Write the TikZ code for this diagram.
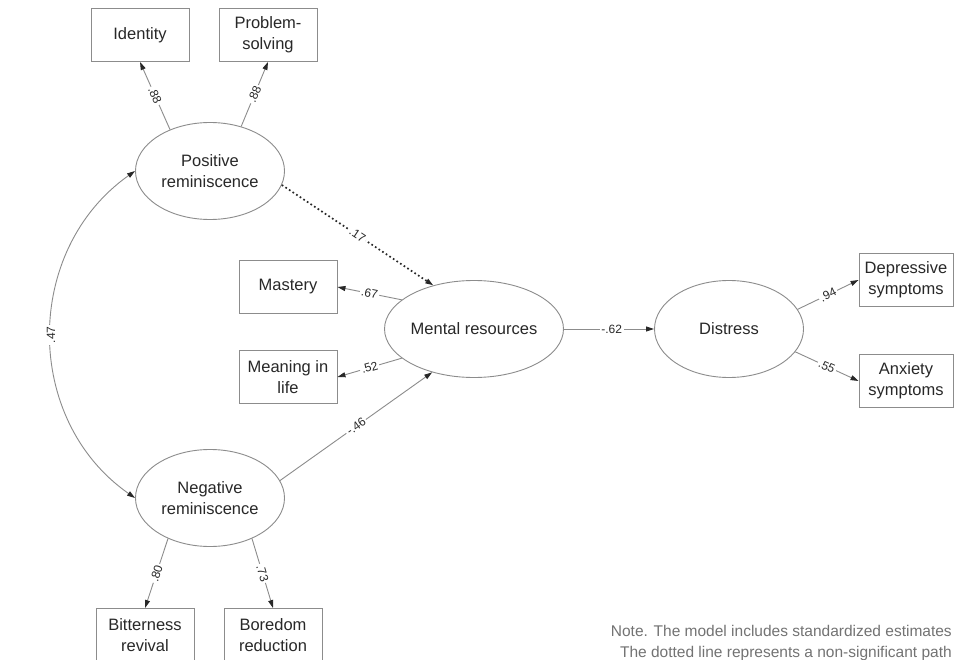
\documentclass[tikz,border=0pt]{standalone}
\usepackage{fontspec}
\setmainfont{Liberation Sans}
\usetikzlibrary{arrows.meta,shapes.geometric}
\definecolor{LineGray}{RGB}{140,140,140}
\definecolor{TextGray}{RGB}{40,40,40}
\definecolor{NoteGray}{RGB}{115,115,115}

\begin{document}
\begin{tikzpicture}[
        x=1pt, y=-1pt,
        font=\fontsize{16.5}{21}\selectfont,
        latent/.style = {ellipse, draw=LineGray, line width=0.9pt, minimum width=149pt, minimum height=97pt, inner sep=0pt, align=center, text=TextGray},
        observed/.style = {rectangle, draw=LineGray, line width=0.9pt, minimum width=98pt, minimum height=53pt, inner sep=0pt, align=center, text=TextGray},
        tip/.style = {-{Triangle[length=8pt, width=5pt, color=TextGray]}},
        link/.style = {draw=LineGray, line width=0.9pt, tip},
        nonsig/.style = {draw=TextGray, line width=1.7pt, dash pattern=on 1.7pt off 2.6pt, tip},
        est/.style = {font=\fontsize{12}{12}\selectfont, fill=white, inner sep=1.5pt, sloped, text=TextGray},
        note/.style = {font=\fontsize{15.5}{21}\selectfont, text=NoteGray, inner sep=0pt}
    ]
    \useasboundingbox[fill=white] (0,0) rectangle (955,660);

    \node (PR) at (210,171) [latent] {Positive\\reminiscence};
    \node (NR) at (210,498) [latent] {Negative\\reminiscence};
    \node (MR) at (474,329) [latent] {Mental resources};
    \node (DI) at (729,329) [latent] {Distress};

    \node (ID) at (140,35)  [observed] {Identity};
    \node (PS) at (268,35)  [observed] {Problem-\\solving};
    \node (MA) at (288,287) [observed] {Mastery};
    \node (ML) at (288,377) [observed] {Meaning in\\life};
    \node (DS) at (906,280) [observed, minimum width=94pt] {Depressive\\symptoms};
    \node (AS) at (906,381) [observed, minimum width=94pt] {Anxiety\\symptoms};
    \node (BR) at (145,635) [observed] {Bitterness\\revival};
    \node (BO) at (273,635) [observed] {Boredom\\reduction};

    \draw[link] (PR.134) -- (ID.south) node [est, midway] {.88};
    \draw[link] (PR.55) -- (PS.south) node [est, midway] {.88};
    \draw[link] (NR.224) -- (BR.north) node [est, midway] {.80};
    \draw[link] (NR.316) -- (BO.north) node [est, midway] {.73};

    \draw[nonsig] (PR.349) -- (MR.133) node [est, midway] {.17};
    \draw[link] (NR.14) -- (MR.226) node [est, midway] {-.46};
    \draw[link] (MR.158) -- (MA.east) node [est, midway] {.67};
    \draw[link] (MR.202) -- (ML.east) node [est, midway] {.52};
    \draw[link] (MR.east) -- (DI.west) node [est, pos=0.53] {-.62};
    \draw[link] (DI.16) -- (DS.west) node [est, midway] {.94};
    \draw[link] (DI.341) -- (AS.west) node [est, midway] {.55};

    \draw[link, {Triangle[length=8pt, width=5pt, color=TextGray]}-{Triangle[length=8pt, width=5pt, color=TextGray]}]
        (NR.west) .. controls (23,420) and (23,250) .. (PR.west)
        node [est, midway, allow upside down] {.47};

    \node (note1) at (952,636) [note, anchor=base east] {Note. The model includes standardized estimates};
    \node (note2) at (952,657) [note, anchor=base east] {The dotted line represents a non-significant path};
\end{tikzpicture}
\end{document}
